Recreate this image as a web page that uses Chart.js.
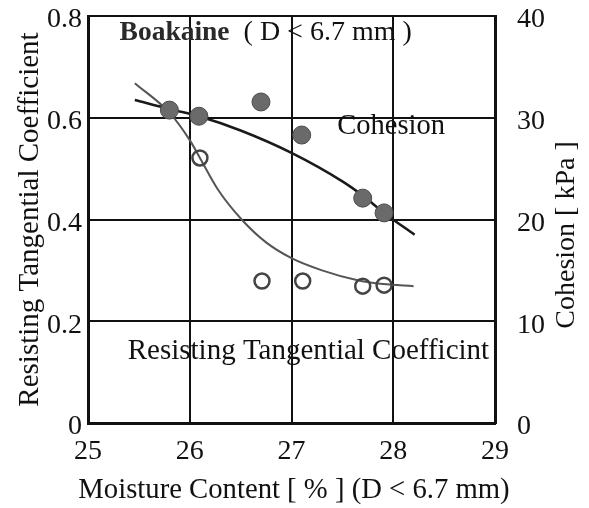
<!DOCTYPE html>
<html>
<head>
<meta charset="utf-8">
<script src="https://cdn.jsdelivr.net/npm/chart.js@4"></script>
<style>
  html, body { margin: 0; padding: 0; background: #fff; }
  #wrap { width: 589px; height: 508px; }
</style>
</head>
<body>
<div id="wrap"><canvas id="chart" width="589" height="508"></canvas></div>
<script>
// Boakaine (D < 6.7 mm): cohesion and resisting tangential coefficient vs moisture content

// measured cohesion (filled circles), kPa on the right axis
const cohesionMoisture = [25.8, 26.09, 26.7, 27.1, 27.7, 27.91];
const cohesionKPa = [30.75, 30.15, 31.55, 28.3, 22.1, 20.65];

// measured resisting tangential coefficient (open circles), left axis
const coefMoisture = [26.1, 26.71, 27.11, 27.7, 27.91];
const coefValues = [0.521, 0.279, 0.279, 0.269, 0.271];

// hand-drawn fit curves
const cohesionFitX = [25.46, 25.8, 26.09, 26.5, 27.0, 27.5, 27.7, 27.91, 28.21];
const cohesionFitY = [31.75, 30.85, 30.15, 28.75, 26.55, 23.75, 22.35, 20.65, 18.5];
const coefFitX = [25.46, 25.8, 26.0, 26.1, 26.28, 26.51, 26.75, 27.0, 27.3, 27.64, 27.9, 28.2];
const coefFitY = [0.668, 0.61, 0.556, 0.521, 0.458, 0.40, 0.355, 0.324, 0.300, 0.281, 0.273, 0.269];

// axis ranges / ticks
const xRange = [25, 29];
const coefRange = [0, 0.8];
const kpaRange = [0, 40];

const SERIF = '"Liberation Serif", "Times New Roman", serif';
const INK = '#111';

const toPoints = (xs, ys) => xs.map((v, i) => ({ x: v, y: ys[i] }));

// keep the plot box where the reference has it
function fixVertical(width) {
  return (scale) => {
    scale.width = width;
    scale.paddingTop = 0;
    scale.paddingBottom = 0;
  };
}

// text drawn inside the plot, plus the x title (wider than the plot) and the right-hand title
const textPlugin = {
  id: 'plotText',
  afterDatasetsDraw(chart) {
    const { ctx, scales: { x, y } } = chart;
    ctx.save();
    ctx.fillStyle = INK;
    ctx.textBaseline = 'middle';
    ctx.textAlign = 'left';

    // title inside the plot
    let px = x.getPixelForValue(25.31);
    const py = y.getPixelForValue(0.767);
    ctx.font = 'bold 27.5px ' + SERIF;
    ctx.fillStyle = '#2a2a2a';
    ctx.fillText('Boakaine', px, py);
    px += ctx.measureText('Boakaine').width;
    ctx.fillStyle = INK;
    ctx.font = '28px ' + SERIF;
    ctx.fillText('  ( D < 6.7 mm )', px, py);

    ctx.font = '28.5px ' + SERIF;
    ctx.fillText('Cohesion', x.getPixelForValue(27.45), y.getPixelForValue(0.582));
    ctx.font = '29px ' + SERIF;
    ctx.fillText('Resisting Tangential Coefficint', x.getPixelForValue(25.39), y.getPixelForValue(0.14));

    // x axis title
    ctx.textAlign = 'center';
    ctx.font = '28.7px ' + SERIF;
    ctx.fillText('Moisture Content [ % ] (D < 6.7 mm)', 294, 490);

    // right axis title reads bottom-to-top
    ctx.font = '28px ' + SERIF;
    ctx.translate(567, 235);
    ctx.rotate(-Math.PI / 2);
    ctx.fillText('Cohesion [ kPa ]', 0, 0);
    ctx.restore();
  }
};

new Chart(document.getElementById('chart'), {
  type: 'scatter',
  data: {
    datasets: [
      {
        label: 'Cohesion',
        data: toPoints(cohesionMoisture, cohesionKPa),
        yAxisID: 'y2',
        order: 0,
        pointRadius: 9,
        pointBackgroundColor: '#6a6a6a',
        pointBorderColor: '#4a4a4a',
        pointBorderWidth: 1
      },
      {
        label: 'Resisting Tangential Coefficient',
        data: toPoints(coefMoisture, coefValues),
        yAxisID: 'y',
        order: 0,
        pointRadius: 7.5,
        pointBackgroundColor: 'rgba(0,0,0,0)',
        pointBorderColor: '#444',
        pointBorderWidth: 2.5
      },
      {
        label: 'Cohesion fit',
        type: 'line',
        data: toPoints(cohesionFitX, cohesionFitY),
        yAxisID: 'y2',
        order: 1,
        borderColor: '#1a1a1a',
        borderWidth: 2.5,
        pointRadius: 0,
        cubicInterpolationMode: 'monotone',
        fill: false
      },
      {
        label: 'Coefficient fit',
        type: 'line',
        data: toPoints(coefFitX, coefFitY),
        yAxisID: 'y',
        order: 1,
        borderColor: '#555',
        borderWidth: 2,
        pointRadius: 0,
        cubicInterpolationMode: 'monotone',
        fill: false
      }
    ]
  },
  options: {
    responsive: false,
    animation: false,
    layout: { padding: { top: 16, right: 0, left: 0, bottom: 0 } },
    plugins: {
      legend: { display: false },
      tooltip: { enabled: false }
    },
    scales: {
      x: {
        type: 'linear',
        min: xRange[0],
        max: xRange[1],
        ticks: {
          stepSize: 1,
          color: INK,
          padding: 12,
          font: { family: SERIF, size: 28 }
        },
        grid: { color: INK, lineWidth: 2, drawTicks: false },
        border: { color: INK, width: 3 },
        title: { display: false },
        afterFit(scale) {
          scale.height = 85;
          scale.paddingLeft = 0;
          scale.paddingRight = 0;
        }
      },
      y: {
        type: 'linear',
        position: 'left',
        min: coefRange[0],
        max: coefRange[1],
        ticks: {
          stepSize: 0.2,
          color: INK,
          padding: 6,
          labelOffset: 4,
          font: { family: SERIF, size: 28 }
        },
        grid: { color: INK, lineWidth: 2, drawTicks: false },
        border: { color: INK, width: 3 },
        title: {
          display: true,
          text: 'Resisting Tangential Coefficient',
          color: INK,
          font: { family: SERIF, size: 29, lineHeight: 1.2 },
          padding: { top: 13, bottom: 0 }
        },
        afterFit: fixVertical(88)
      },
      y2: {
        type: 'linear',
        position: 'right',
        min: kpaRange[0],
        max: kpaRange[1],
        ticks: {
          stepSize: 10,
          color: INK,
          padding: 22,
          labelOffset: 4,
          font: { family: SERIF, size: 28 }
        },
        grid: { display: false, drawTicks: false },
        border: { color: INK, width: 3 },
        afterFit: fixVertical(94)
      }
    }
  },
  plugins: [textPlugin]
});
</script>
</body>
</html>
